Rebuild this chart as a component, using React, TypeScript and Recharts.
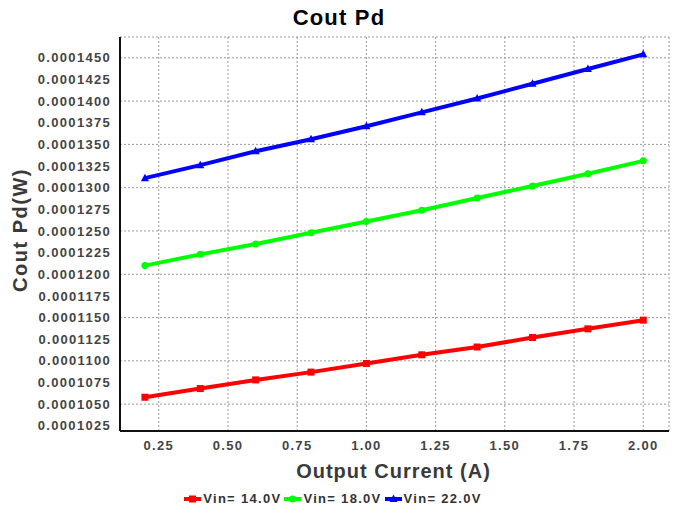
import React from "react";
import { LineChart, Line, XAxis, YAxis, CartesianGrid, Legend } from "recharts";

const current = [0.2, 0.4, 0.6, 0.8, 1.0, 1.2, 1.4, 1.6, 1.8, 2.0];
const vin14 = [0.0001058, 0.0001068, 0.0001078, 0.0001087, 0.0001097, 0.0001107, 0.0001116, 0.0001127, 0.0001137, 0.0001147];
const vin18 = [0.000121, 0.0001223, 0.0001235, 0.0001248, 0.0001261, 0.0001274, 0.0001288, 0.0001302, 0.0001316, 0.0001331];
const vin22 = [0.0001311, 0.0001326, 0.0001342, 0.0001356, 0.0001371, 0.0001387, 0.0001403, 0.000142, 0.0001437, 0.0001454];

const xTicks = [0.25, 0.5, 0.75, 1.0, 1.25, 1.5, 1.75, 2.0];
const yTicks = [
  0.0001025, 0.000105, 0.0001075, 0.00011, 0.0001125, 0.000115, 0.0001175, 0.00012, 0.0001225,
  0.000125, 0.0001275, 0.00013, 0.0001325, 0.000135, 0.0001375, 0.00014, 0.0001425, 0.000145,
];

const series = [
  { key: "vin14", name: "Vin= 14.0V", color: "#ff0000", shape: "square" },
  { key: "vin18", name: "Vin= 18.0V", color: "#00ff00", shape: "circle" },
  { key: "vin22", name: "Vin= 22.0V", color: "#0000ff", shape: "triangle" },
];

const data = current.map((c, i) => ({ current: c, vin14: vin14[i], vin18: vin18[i], vin22: vin22[i] }));

const FONT = "'Liberation Sans', Arial, sans-serif";
const tickStyle = { fontSize: 13, fontWeight: 700, fill: "#444", letterSpacing: 1.3, fontFamily: FONT };

function Marker({ shape, color, cx, cy }: { shape: string; color: string; cx: number; cy: number }) {
  if (shape === "square") return <rect x={cx - 3.5} y={cy - 3.5} width={7} height={7} fill={color} />;
  if (shape === "circle") return <circle cx={cx} cy={cy} r={3.5} fill={color} />;
  return <polygon points={`${cx},${cy - 4.5} ${cx - 4},${cy + 3} ${cx + 4},${cy + 3}`} fill={color} />;
}

function makeDot(shape: string, color: string) {
  return (p: any) => {
    if (p.cx == null || p.cy == null) return <g key={p.index} />;
    return <Marker key={p.index} shape={shape} color={color} cx={p.cx} cy={p.cy} />;
  };
}

function LegendContent() {
  return (
    <div
      style={{
        display: "flex",
        justifyContent: "center",
        alignItems: "center",
        height: 32,
        paddingTop: 3,
        boxSizing: "border-box",
        fontFamily: FONT,
        fontSize: 13,
        fontWeight: 700,
        color: "#333",
        letterSpacing: 1.3,
      }}
    >
      {series.map((s) => (
        <div key={s.key} style={{ display: "flex", alignItems: "center", marginRight: 3 }}>
          <svg width={17} height={10} style={{ marginRight: 2 }}>
            <line x1={0} y1={5} x2={17} y2={5} stroke={s.color} strokeWidth={4} />
            <Marker shape={s.shape} color={s.color} cx={8.5} cy={5} />
          </svg>
          <span>{s.name}</span>
        </div>
      ))}
    </div>
  );
}

export default function App() {
  return (
    <div style={{ position: "absolute", left: 0, top: 0, width: 678, height: 513, background: "#fff", fontFamily: FONT }}>
      <div
        style={{
          position: "absolute",
          top: 5,
          left: 0,
          width: 678,
          textAlign: "center",
          fontSize: 22,
          fontWeight: 700,
          letterSpacing: 1.2,
          color: "#000",
          lineHeight: "normal",
        }}
      >
        Cout Pd
      </div>
      <LineChart width={678} height={513} data={data} margin={{ top: 37, right: 9, bottom: 0, left: 0 }}>
        <CartesianGrid stroke="#999" strokeDasharray="2 2" horizontalPoints={undefined} />
        <XAxis
          dataKey="current"
          type="number"
          domain={[0.11, 2.093]}
          ticks={xTicks}
          tickFormatter={(v: number) => v.toFixed(2)}
          tick={tickStyle}
          tickLine={false}
          tickSize={0}
          tickMargin={10}
          height={50}
          axisLine={{ stroke: "#111", strokeWidth: 2 }}
          label={(props: any) => {
            const vb = props.viewBox;
            return (
              <text
                x={vb.x + vb.width / 2 - 1}
                y={478}
                textAnchor="middle"
                style={{ fontSize: 20, fontWeight: 700, fill: "#3a3a3a", letterSpacing: 1, fontFamily: FONT }}
              >
                Output Current (A)
              </text>
            );
          }}
        />
        <XAxis xAxisId="top" orientation="top" height={0} tick={false} tickLine={false} axisLine={{ stroke: "#808080", strokeWidth: 2 }} />
        <YAxis
          type="number"
          domain={[0.0001019, 0.0001474]}
          ticks={yTicks}
          tickFormatter={(v: number) => v.toFixed(7)}
          tick={tickStyle}
          tickLine={false}
          tickSize={0}
          tickMargin={9}
          width={120}
          axisLine={{ stroke: "#111", strokeWidth: 2 }}
          label={(props: any) => {
            const vb = props.viewBox;
            const cy = vb.y + vb.height / 2 - 4;
            return (
              <text
                x={20}
                y={cy}
                transform={`rotate(-90, 20, ${cy})`}
                textAnchor="middle"
                dominantBaseline="central"
                style={{ fontSize: 20, fontWeight: 700, fill: "#3a3a3a", letterSpacing: 1.5, fontFamily: FONT }}
              >
                Cout Pd(W)
              </text>
            );
          }}
        />
        <YAxis yAxisId="right" orientation="right" width={0} tick={false} tickLine={false} axisLine={{ stroke: "#111", strokeWidth: 2 }} />
        <Legend verticalAlign="bottom" height={32} content={() => <LegendContent />} />
        {series.map((s) => (
          <Line
            key={s.key}
            type="linear"
            dataKey={s.key}
            name={s.name}
            stroke={s.color}
            strokeWidth={4}
            dot={makeDot(s.shape, s.color)}
            activeDot={false}
            isAnimationActive={false}
          />
        ))}
      </LineChart>
    </div>
  );
}
